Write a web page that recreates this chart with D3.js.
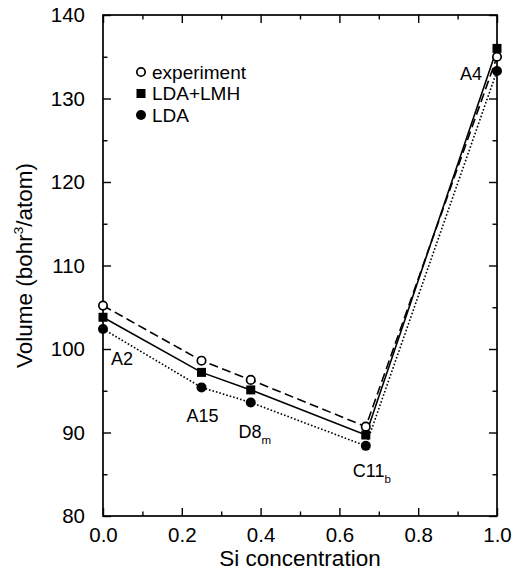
<!DOCTYPE html>
<html>
<head>
<meta charset="utf-8">
<script src="https://cdn.jsdelivr.net/npm/d3@7"></script>
<style>
  html, body { margin: 0; padding: 0; background: #fff; }
  svg { display: block; font-family: "Liberation Sans", Arial, Helvetica, sans-serif; }
</style>
</head>
<body>
<svg id="chart" width="514" height="573"></svg>
<script>
// Si concentration of each phase
const concentration = [0, 0.25, 0.375, 0.667, 1.0];
// Volume (bohr^3/atom)
const experiment = [105.2, 98.6, 96.3, 90.7, 135.0];
const ldaLmh = [103.8, 97.2, 95.1, 89.7, 136.0];
const lda = [102.4, 95.4, 93.6, 88.4, 133.3];
// Phase labels (main text + subscript)
const phaseNames = ["A2", "A15", "D8", "C11", "A4"];
const phaseSubs = ["", "", "m", "b", ""];
// Axis ticks
const xMajorTicks = [0, 0.2, 0.4, 0.6, 0.8, 1.0];
const xMinorTicks = [0.1, 0.3, 0.5, 0.7, 0.9];
const yMajorTicks = [80, 90, 100, 110, 120, 130, 140];
const yMinorTicks = [85, 95, 105, 115, 125, 135];
const seriesNames = ["experiment", "LDA+LMH", "LDA"];

const svg = d3.select("#chart");
const plotLeft = 103, plotRight = 497, plotTop = 15, plotBottom = 516;

const x = d3.scaleLinear().domain([0, 1]).range([plotLeft, plotRight]);
const y = d3.scaleLinear().domain([80, 140]).range([plotBottom, plotTop]);

const fontTick = 20.5, fontTitle = 22.5;

// Minor ticks (no labels)
const axes = svg.append("g");
axes.append("g").attr("transform", `translate(0,${plotBottom})`)
  .call(d3.axisBottom(x).tickValues(xMinorTicks).tickSize(-4.5).tickFormat(""));
axes.append("g").attr("transform", `translate(0,${plotTop})`)
  .call(d3.axisTop(x).tickValues(xMinorTicks).tickSize(-4.5).tickFormat(""));
axes.append("g").attr("transform", `translate(${plotLeft},0)`)
  .call(d3.axisLeft(y).tickValues(yMinorTicks).tickSize(-4.5).tickFormat(""));
axes.append("g").attr("transform", `translate(${plotRight},0)`)
  .call(d3.axisRight(y).tickValues(yMinorTicks).tickSize(-4.5).tickFormat(""));

// Major ticks with labels
axes.append("g").attr("transform", `translate(0,${plotBottom})`)
  .call(d3.axisBottom(x).tickValues(xMajorTicks).tickSize(-8).tickPadding(11)
    .tickFormat(d3.format(".1f")));
axes.append("g").attr("transform", `translate(0,${plotTop})`)
  .call(d3.axisTop(x).tickValues(xMajorTicks).tickSize(-8).tickFormat(""));
axes.append("g").attr("transform", `translate(${plotLeft},0)`)
  .call(d3.axisLeft(y).tickValues(yMajorTicks).tickSize(-8).tickPadding(18)
    .tickFormat(d3.format("d")));
axes.append("g").attr("transform", `translate(${plotRight},0)`)
  .call(d3.axisRight(y).tickValues(yMajorTicks).tickSize(-8).tickFormat(""));

axes.selectAll(".domain").remove();
axes.selectAll(".tick line").attr("stroke", "#000").attr("stroke-width", 1.4);
axes.selectAll(".tick text").attr("fill", "#000")
  .style("font-size", fontTick + "px");

// Frame
svg.append("rect")
  .attr("x", plotLeft).attr("y", plotTop)
  .attr("width", plotRight - plotLeft).attr("height", plotBottom - plotTop)
  .attr("fill", "none").attr("stroke", "#000").attr("stroke-width", 1.7);

// Axis titles
svg.append("text")
  .attr("x", (plotLeft + plotRight) / 2).attr("y", 566)
  .attr("text-anchor", "middle")
  .style("font-size", fontTitle + "px")
  .text("Si concentration");

const yTitle = svg.append("text")
  .attr("transform", `translate(32,${(plotTop + plotBottom) / 2}) rotate(-90)`)
  .attr("text-anchor", "middle")
  .style("font-size", fontTitle + "px");
yTitle.append("tspan").text("Volume (bohr");
yTitle.append("tspan").attr("dy", -9).style("font-size", "13.5px").text("3");
yTitle.append("tspan").attr("dy", 9).text("/atom)");

// Series lines
const series = [
  { values: experiment, dash: "9,4.5" },
  { values: ldaLmh, dash: null },
  { values: lda, dash: "1.6,2" }
];
const line = d3.line().x(d => x(d[0])).y(d => y(d[1]));
series.forEach(s => {
  svg.append("path")
    .datum(concentration.map((c, i) => [c, s.values[i]]))
    .attr("d", line)
    .attr("fill", "none")
    .attr("stroke", "#000")
    .attr("stroke-width", 1.6)
    .attr("stroke-dasharray", s.dash);
});

// Markers
function openCircle(g, cx, cy) {
  g.append("circle").attr("cx", cx).attr("cy", cy).attr("r", 4.2)
    .attr("fill", "#fff").attr("stroke", "#000").attr("stroke-width", 1.7);
}
function filledSquare(g, cx, cy) {
  g.append("rect").attr("x", cx - 4.5).attr("y", cy - 4.5)
    .attr("width", 9).attr("height", 9).attr("fill", "#000");
}
function filledCircle(g, cx, cy) {
  g.append("circle").attr("cx", cx).attr("cy", cy).attr("r", 5).attr("fill", "#000");
}
const markers = [openCircle, filledSquare, filledCircle];
const marks = svg.append("g");
[lda, ldaLmh, experiment].forEach((vals, k) => {
  const draw = [filledCircle, filledSquare, openCircle][k];
  concentration.forEach((c, i) => draw(marks, x(c), y(vals[i])));
});

// Legend
const legend = svg.append("g");
seriesNames.forEach((name, i) => {
  const ly = 72 + i * 21.5;
  markers[i](legend, 141, ly);
  legend.append("text")
    .attr("x", 152).attr("y", ly).attr("dy", "0.36em")
    .style("font-size", "19px")
    .text(name);
});

// Phase labels
const labelOffsets = [[19, 30], [1, 28], [4, 29], [6, 25], [-26, 3]];
const labels = svg.append("g").style("font-size", "18px");
phaseNames.forEach((name, i) => {
  const t = labels.append("text")
    .attr("x", x(concentration[i]) + labelOffsets[i][0])
    .attr("y", y(lda[i]) + labelOffsets[i][1])
    .attr("dy", "0.36em")
    .attr("text-anchor", "middle")
    .text(name);
  if (phaseSubs[i]) {
    t.append("tspan").attr("dy", 6).style("font-size", "11.5px").text(phaseSubs[i]);
  }
});
</script>
</body>
</html>
